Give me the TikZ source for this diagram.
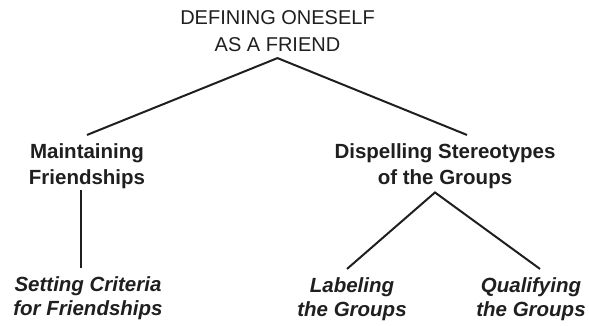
\documentclass[tikz,border=0pt]{standalone}
\usepackage{fontspec}
\setmainfont{Liberation Sans}
\begin{document}
\begin{tikzpicture}[x=1pt,y=-1pt,
    tema/.style={align=center,anchor=base,inner sep=4pt,text=black!88},
    raiz/.style={tema,font=\fontsize{20}{26.7}\selectfont},
    rama/.style={tema,font=\fontsize{20.5}{25}\selectfont\bfseries},
    hoja/.style={tema,font=\fontsize{20.5}{24.5}\selectfont\bfseries\itshape},
    enlace/.style={line width=2pt,black!88}]
    \useasboundingbox (0,0) rectangle (589,326);

    \coordinate (R) at (277.5,51.7);
    \coordinate (M) at (87,184);
    \coordinate (D) at (445,184);
    \coordinate (S) at (88,315.5);
    \coordinate (L) at (352,316.5);
    \coordinate (Q) at (531,316.5);

    % Titulo
    \node[raiz] (root) at (R) {DEFINING ONESELF\\AS A FRIEND};

    % Ramas
    \node[rama] (main) at (M) {Maintaining\\Friendships};
    \node[rama] (dispel) at (D) {Dispelling Stereotypes\\of the Groups};

    % Hojas
    \node[hoja] (crit) at (S) {Setting Criteria\\for Friendships};
    \node[hoja] (labl) at (L) {Labeling\\the Groups};
    \node[hoja] (qual) at (Q) {Qualifying\\the Groups};

    \draw[enlace] ([yshift=5pt]main.north) -- ([yshift=-2pt]root.south) -- ([xshift=22pt,yshift=5pt]dispel.north);
    \draw[enlace] ([xshift=-6pt,yshift=2pt]main.south) -- ([xshift=-7pt,yshift=4pt]crit.north);
    \draw[enlace] ([xshift=-5pt,yshift=4pt]labl.north) -- ([xshift=-10pt]dispel.south) -- ([xshift=9pt,yshift=4pt]qual.north);
\end{tikzpicture}
\end{document}
